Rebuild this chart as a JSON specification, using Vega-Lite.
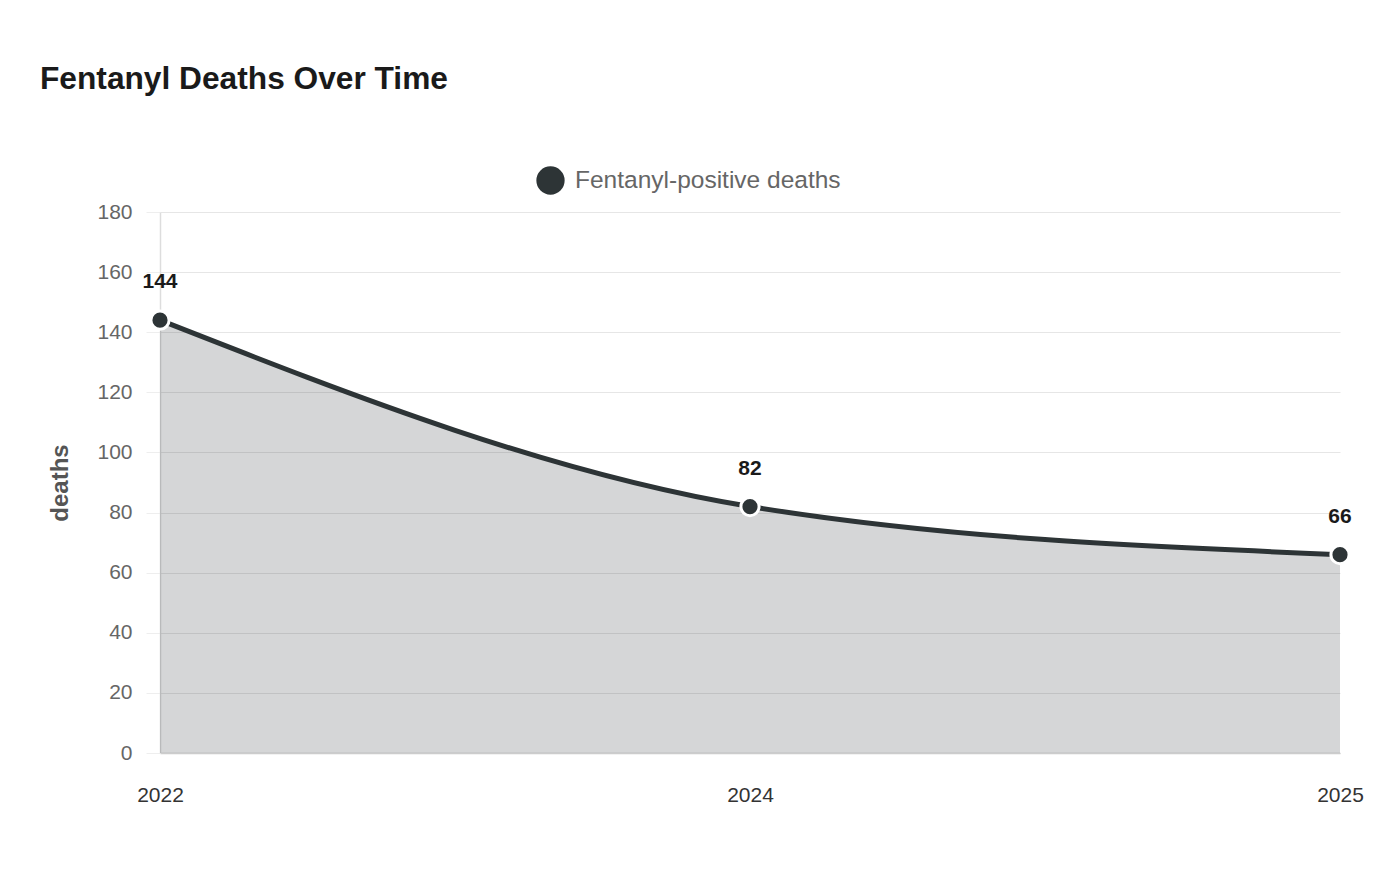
{
  "$schema": "https://vega.github.io/schema/vega-lite/v6.json",
  "width": 1180,
  "height": 541,
  "autosize": {"type": "none"},
  "padding": {"left": 160, "top": 212, "right": 60, "bottom": 127},
  "background": "#ffffff",
  "title": {
    "text": "Fentanyl Deaths Over Time",
    "anchor": "start",
    "frame": "group",
    "dx": -120,
    "offset": 70,
    "fontSize": 31.7,
    "fontWeight": "bold",
    "font": "Liberation Sans",
    "color": "#1a1a1a"
  },
  "config": {
    "font": "Liberation Sans",
    "view": {"stroke": null}
  },
  "data": {
    "values": [
      {"year": "2022", "deaths": 144, "series": "Fentanyl-positive deaths"},
      {"year": "2024", "deaths": 82, "series": "Fentanyl-positive deaths"},
      {"year": "2025", "deaths": 66, "series": "Fentanyl-positive deaths"}
    ]
  },
  "encoding": {
    "x": {
      "field": "year",
      "type": "ordinal",
      "scale": {"type": "point", "padding": 0},
      "axis": {
        "title": null,
        "labelAngle": 0,
        "labelFontSize": 21,
        "labelColor": "#333333",
        "labelPadding": 31,
        "ticks": false,
        "domainColor": "#cccccc",
        "domainWidth": 1.5,
        "grid": false
      }
    },
    "y": {
      "field": "deaths",
      "type": "quantitative",
      "scale": {"domain": [0, 180]},
      "axis": {
        "title": "deaths",
        "titleFontSize": 24,
        "titleFontWeight": "bold",
        "titleColor": "#555555",
        "titlePadding": 24,
        "values": [0, 20, 40, 60, 80, 100, 120, 140, 160, 180],
        "labelFontSize": 21,
        "labelColor": "#666666",
        "labelPadding": 14,
        "tickSize": 14,
        "tickColor": "#eeeeee",
        "gridColor": "#e6e6e6",
        "domainColor": "#dddddd",
        "domainWidth": 1.5
      }
    }
  },
  "layer": [
    {
      "mark": {"type": "area", "interpolate": "monotone", "color": "#2d3436", "opacity": 0.2}
    },
    {
      "mark": {"type": "line", "interpolate": "monotone", "color": "#2d3436", "strokeWidth": 5}
    },
    {
      "mark": {"type": "point", "filled": true, "shape": "circle", "size": 330, "stroke": "#ffffff", "strokeWidth": 3, "opacity": 1},
      "encoding": {
        "color": {
          "field": "series",
          "type": "nominal",
          "scale": {"range": ["#2d3436"]},
          "legend": {
            "title": null,
            "orient": "none",
            "legendX": 376,
            "legendY": -46,
            "symbolType": "circle",
            "symbolSize": 800,
            "symbolStrokeWidth": 0,
            "labelFontSize": 24.5,
            "labelColor": "#666666",
            "labelOffset": 10,
            "labelLimit": 500,
            "labelFont": "Liberation Sans"
          }
        }
      }
    },
    {
      "mark": {"type": "text", "dy": -38, "fontSize": 21, "fontWeight": "bold", "color": "#1a1a1a"},
      "encoding": {"text": {"field": "deaths", "type": "quantitative"}}
    }
  ]
}
